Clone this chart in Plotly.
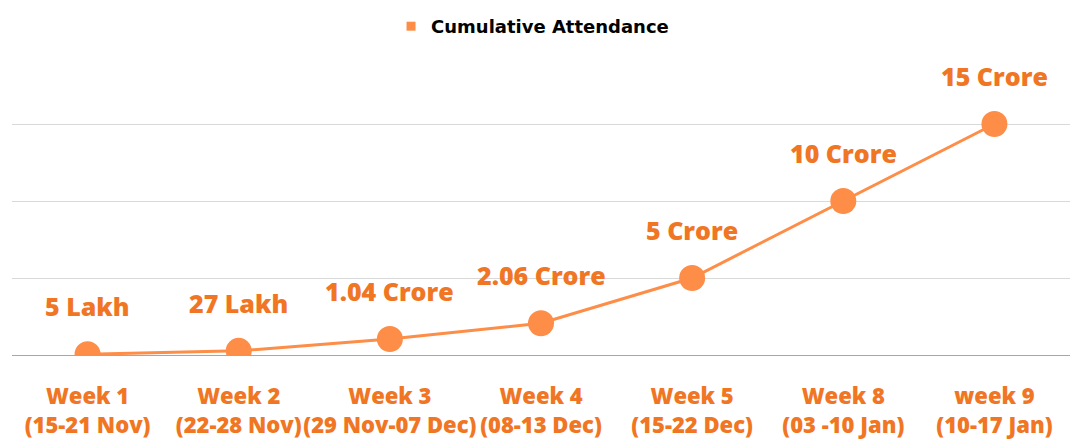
import plotly.graph_objects as go

weeks = ["Week 1<br>(15-21 Nov)", "Week 2<br>(22-28 Nov)", "Week 3<br>(29 Nov-07 Dec)",
         "Week 4<br>(08-13 Dec)", "Week 5<br>(15-22 Dec)", "Week 8<br>(03 -10 Jan)",
         "week 9<br>(10-17 Jan)"]
attendance_crore = [0.05, 0.27, 1.04, 2.06, 5, 10, 15]
labels = ["5 Lakh", "27 Lakh", "1.04 Crore", "2.06 Crore", "5 Crore", "10 Crore", "15 Crore"]

LINE = "#FD8D47"
TEXT = "#F07624"
FONT = "Open Sans"

fig = go.Figure()
fig.add_trace(go.Scatter(
    x=weeks, y=attendance_crore, mode="lines+markers",
    line=dict(color=LINE, width=3),
    marker=dict(color=LINE, size=26),
    showlegend=False, hoverinfo="skip"))
fig.add_trace(go.Scatter(
    x=[None], y=[None], mode="markers", name="Cumulative Attendance",
    marker=dict(color=LINE, size=9, symbol="square")))

for w, v, t in zip(weeks, attendance_crore, labels):
    fig.add_annotation(x=w, y=v, text=t, showarrow=False, yshift=48,
                       font=dict(family=FONT, size=25, color=TEXT, weight=800))

fig.update_layout(
    width=1086, height=439,
    margin=dict(l=4, r=24, t=39, b=92, autoexpand=False),
    paper_bgcolor="white", plot_bgcolor="white",
    legend=dict(orientation="h", x=0.492, xanchor="center", y=1.0, yanchor="top",
                yref="container", font=dict(family="DejaVu Sans", size=18, color="black", weight="bold"),
                itemwidth=30),
    xaxis=dict(showgrid=False, showline=False, ticks="", ticklabelstandoff=26,
               range=[-0.5, 6.5], tickangle=0,
               tickfont=dict(family=FONT, size=22, color=TEXT, weight=800)),
    yaxis=dict(range=[0, 20], dtick=5, showticklabels=False, gridcolor="#D9D9D9",
               gridwidth=1, zeroline=True, zerolinecolor="#A6A6A6", zerolinewidth=1,
               fixedrange=True),
)
fig.write_html("out.html")
